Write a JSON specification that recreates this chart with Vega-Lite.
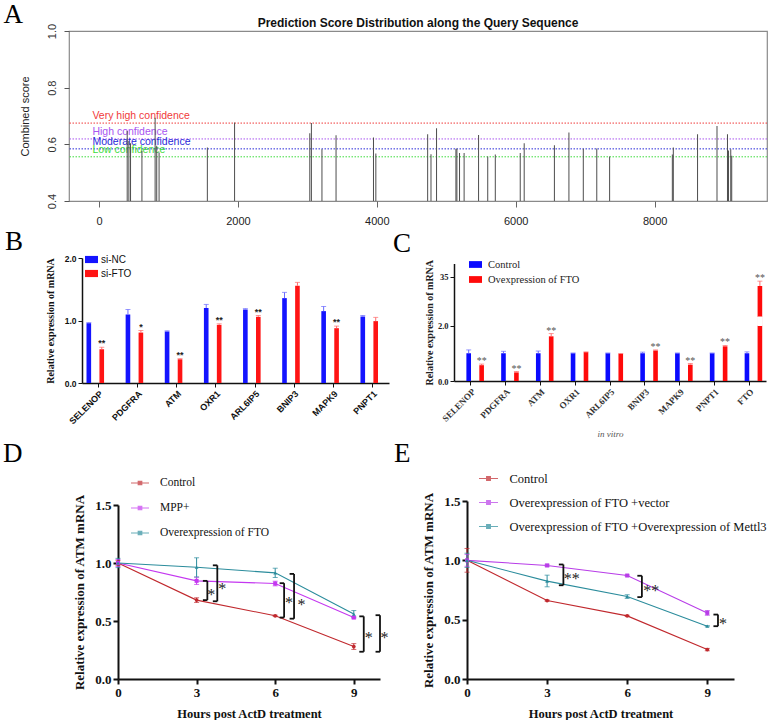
{
"$schema": "https://vega.github.io/schema/vega-lite/v6.json",
"background": "white",
"padding": {"left": 3, "top": 0, "right": 0, "bottom": 0},
"config": {"view": {"stroke": null}, "axis": {"grid": false}},
"datasets": {
"sites": [
{"pos":406,"score":0.647},{"pos":430,"score":0.612},{"pos":454,"score":0.604},{"pos":618,"score":0.577},{"pos":808,"score":0.694},{"pos":831,"score":0.595},{"pos":865,"score":0.571},{"pos":1560,"score":0.589},{"pos":1952,"score":0.677},{"pos":3035,"score":0.639},{"pos":3058,"score":0.675},{"pos":3210,"score":0.583},{"pos":3413,"score":0.632},{"pos":3952,"score":0.624},{"pos":3986,"score":0.568},{"pos":4732,"score":0.636},{"pos":4780,"score":0.565},{"pos":4860,"score":0.657},{"pos":5139,"score":0.584},{"pos":5153,"score":0.584},{"pos":5191,"score":0.569},{"pos":5257,"score":0.569},{"pos":5465,"score":0.633},{"pos":5597,"score":0.557},{"pos":5706,"score":0.564},{"pos":6065,"score":0.569},{"pos":6122,"score":0.604},{"pos":6557,"score":0.597},{"pos":6766,"score":0.642},{"pos":6973,"score":0.584},{"pos":7167,"score":0.585},{"pos":7352,"score":0.557},{"pos":8255,"score":0.564},{"pos":8269,"score":0.589},{"pos":8618,"score":0.636},{"pos":8898,"score":0.665},{"pos":9049,"score":0.636},{"pos":9064,"score":0.578},{"pos":9096,"score":0.583},{"pos":9110,"score":0.56}
],
"thresholds": [
{"level":"Very high confidence","score":0.675},{"level":"High confidence","score":0.619},{"level":"Moderate confidence","score":0.584},{"level":"Low confidence","score":0.556}
],
"geneB": [
{"gene":"SELENOP","group":"si-NC","value":0.957,"hi":0.967,"star":""},
{"gene":"SELENOP","group":"si-FTO","value":0.54,"hi":0.572,"star":"**"},
{"gene":"PDGFRA","group":"si-NC","value":1.096,"hi":1.176,"star":""},
{"gene":"PDGFRA","group":"si-FTO","value":0.807,"hi":0.84,"star":"*"},
{"gene":"ATM","group":"si-NC","value":0.825,"hi":0.835,"star":""},
{"gene":"ATM","group":"si-FTO","value":0.38,"hi":0.39,"star":"**"},
{"gene":"OXR1","group":"si-NC","value":1.2,"hi":1.257,"star":""},
{"gene":"OXR1","group":"si-FTO","value":0.93,"hi":0.947,"star":"**"},
{"gene":"ARL6IP5","group":"si-NC","value":1.176,"hi":1.19,"star":""},
{"gene":"ARL6IP5","group":"si-FTO","value":1.059,"hi":1.08,"star":"**"},
{"gene":"BNIP3","group":"si-NC","value":1.358,"hi":1.45,"star":""},
{"gene":"BNIP3","group":"si-FTO","value":1.556,"hi":1.61,"star":""},
{"gene":"MAPK9","group":"si-NC","value":1.15,"hi":1.225,"star":""},
{"gene":"MAPK9","group":"si-FTO","value":0.877,"hi":0.91,"star":"**"},
{"gene":"PNPT1","group":"si-NC","value":1.064,"hi":1.08,"star":""},
{"gene":"PNPT1","group":"si-FTO","value":0.99,"hi":1.05,"star":""}
],
"geneC": [
{"gene":"SELENOP","group":"Control","value":1.0,"hi":1.12,"star":""},
{"gene":"SELENOP","group":"Ovexpression of FTO","value":0.57,"hi":0.61,"star":"**"},
{"gene":"PDGFRA","group":"Control","value":1.0,"hi":1.07,"star":""},
{"gene":"PDGFRA","group":"Ovexpression of FTO","value":0.31,"hi":0.34,"star":"**"},
{"gene":"ATM","group":"Control","value":1.0,"hi":1.08,"star":""},
{"gene":"ATM","group":"Ovexpression of FTO","value":1.61,"hi":1.71,"star":"**"},
{"gene":"OXR1","group":"Control","value":1.0,"hi":1.01,"star":""},
{"gene":"OXR1","group":"Ovexpression of FTO","value":1.04,"hi":1.05,"star":""},
{"gene":"ARL6IP5","group":"Control","value":1.0,"hi":1.01,"star":""},
{"gene":"ARL6IP5","group":"Ovexpression of FTO","value":0.98,"hi":0.99,"star":""},
{"gene":"BNIP3","group":"Control","value":1.0,"hi":1.04,"star":""},
{"gene":"BNIP3","group":"Ovexpression of FTO","value":1.1,"hi":1.12,"star":"**"},
{"gene":"MAPK9","group":"Control","value":1.0,"hi":1.01,"star":""},
{"gene":"MAPK9","group":"Ovexpression of FTO","value":0.59,"hi":0.63,"star":"**"},
{"gene":"PNPT1","group":"Control","value":1.0,"hi":1.01,"star":""},
{"gene":"PNPT1","group":"Ovexpression of FTO","value":1.25,"hi":1.28,"star":"**"},
{"gene":"FTO","group":"Control","value":1.0,"hi":1.05,"star":""},
{"gene":"FTO","group":"Ovexpression of FTO","value":31.6,"hi":33.4,"star":"**"}
],
"breakC": [
{"gene":"FTO","group":"Ovexpression of FTO","lo":2,"hi":20}
],
"lineD": [
{"series":"Control","hour":0,"mean":1.0,"lo":0.98,"hi":1.02},
{"series":"Control","hour":3,"mean":0.68,"lo":0.66,"hi":0.7},
{"series":"Control","hour":6,"mean":0.545,"lo":0.54,"hi":0.55},
{"series":"Control","hour":9,"mean":0.28,"lo":0.255,"hi":0.305},
{"series":"MPP+","hour":0,"mean":1.0,"lo":0.97,"hi":1.03},
{"series":"MPP+","hour":3,"mean":0.846,"lo":0.815,"hi":0.877},
{"series":"MPP+","hour":6,"mean":0.823,"lo":0.803,"hi":0.843},
{"series":"MPP+","hour":9,"mean":0.53,"lo":0.52,"hi":0.54},
{"series":"Overexpression of FTO","hour":0,"mean":1.0,"lo":0.96,"hi":1.04},
{"series":"Overexpression of FTO","hour":3,"mean":0.964,"lo":0.88,"hi":1.045},
{"series":"Overexpression of FTO","hour":6,"mean":0.915,"lo":0.875,"hi":0.955},
{"series":"Overexpression of FTO","hour":9,"mean":0.56,"lo":0.53,"hi":0.59}
],
"bracketD": [
{"bx":3.41,"bxl":3.24,"lo":0.68,"hi":0.846},
{"bx":3.79,"bxl":3.62,"lo":0.67,"hi":0.98},
{"bx":6.34,"bxl":6.17,"lo":0.53,"hi":0.826},
{"bx":6.72,"bxl":6.55,"lo":0.52,"hi":0.906},
{"bx":9.38,"bxl":9.21,"lo":0.235,"hi":0.54},
{"bx":10.0,"bxl":9.83,"lo":0.235,"hi":0.55}
],
"starD": [
{"sx":3.56,"sy":0.754,"s":"*"},{"sx":3.98,"sy":0.8,"s":"*"},{"sx":6.53,"sy":0.68,"s":"*"},{"sx":7.0,"sy":0.66,"s":"*"},{"sx":9.57,"sy":0.38,"s":"*"},{"sx":10.17,"sy":0.38,"s":"*"}
],
"lineE": [
{"series":"Control","hour":0,"mean":1.0,"lo":0.9,"hi":1.1},
{"series":"Control","hour":3,"mean":0.661,"lo":0.656,"hi":0.666},
{"series":"Control","hour":6,"mean":0.532,"lo":0.527,"hi":0.537},
{"series":"Control","hour":9,"mean":0.248,"lo":0.238,"hi":0.258},
{"series":"Overexpression of FTO +vector","hour":0,"mean":1.0,"lo":0.95,"hi":1.05},
{"series":"Overexpression of FTO +vector","hour":3,"mean":0.957,"lo":0.947,"hi":0.967},
{"series":"Overexpression of FTO +vector","hour":6,"mean":0.872,"lo":0.867,"hi":0.877},
{"series":"Overexpression of FTO +vector","hour":9,"mean":0.557,"lo":0.537,"hi":0.577},
{"series":"Overexpression of FTO +Overexpression of Mettl3","hour":0,"mean":1.0,"lo":0.94,"hi":1.06},
{"series":"Overexpression of FTO +Overexpression of Mettl3","hour":3,"mean":0.825,"lo":0.777,"hi":0.875},
{"series":"Overexpression of FTO +Overexpression of Mettl3","hour":6,"mean":0.695,"lo":0.68,"hi":0.71},
{"series":"Overexpression of FTO +Overexpression of Mettl3","hour":9,"mean":0.445,"lo":0.44,"hi":0.45}
],
"bracketE": [
{"bx":3.61,"bxl":3.44,"lo":0.79,"hi":0.965},
{"bx":6.55,"bxl":6.38,"lo":0.69,"hi":0.87},
{"bx":9.4,"bxl":9.23,"lo":0.445,"hi":0.543}
],
"starE": [
{"sx":3.92,"sy":0.867,"s":"**"},{"sx":6.9,"sy":0.771,"s":"**"},{"sx":9.59,"sy":0.49,"s":"*"}
]
},
"columns": 1,
"align": "none",
"spacing": 1,
"resolve": {"scale": {"color": "independent"}, "legend": {"color": "independent"}},
"concat": [
{"title": {"text": "A", "anchor": "start", "dx": -15, "font": "Liberation Serif", "fontSize": 27, "fontWeight": "normal", "color": "#000", "offset": -12},
 "hconcat": [
{
"width": 698, "height": 170,
"view": {"stroke": "#8a8a8a", "strokeWidth": 1.2},
"title": {"text": "Prediction Score Distribution along the Query Sequence", "anchor": "middle", "font": "Liberation Sans Narrow, Liberation Sans", "fontSize": 12, "fontWeight": "bold", "color": "#111", "offset": -7},
"layer": [
{"data": {"name": "thresholds"}, "mark": {"type": "rule", "strokeDash": [1.5, 1.5], "strokeWidth": 1},
 "encoding": {
  "y": {"field": "score", "type": "quantitative", "scale": {"domain": [0.4, 1.0], "nice": false, "zero": false},
    "axis": {"values": [0.4,0.5,0.6,0.7,0.8,0.9,1.0], "format": ".1f", "domain": false, "tickSize": 5, "tickColor": "#555", "labelAngle": -90, "labelAlign": "center", "labelBaseline": "bottom", "labelFont": "Liberation Sans", "labelFontSize": 11, "labelColor": "#333", "labelPadding": 7, "title": "Combined score", "titleFont": "Liberation Sans", "titleFontSize": 11, "titleFontWeight": "normal", "titleColor": "#222", "titlePadding": 16}},
  "color": {"field": "level", "type": "nominal", "scale": {"domain": ["Very high confidence","High confidence","Moderate confidence","Low confidence"], "range": ["#f03a3a","#a855f0","#2a2ad8","#3cdc3c"]}, "legend": null}}},
{"data": {"name": "thresholds"}, "mark": {"type": "text", "align": "left", "baseline": "middle", "dy": -7, "font": "Liberation Sans Narrow, Liberation Sans", "fontSize": 10.5},
 "encoding": {"x": {"datum": -95, "type": "quantitative"}, "y": {"field": "score", "type": "quantitative"}, "text": {"field": "level", "type": "nominal"},
  "color": {"field": "level", "type": "nominal", "legend": null}}},
{"data": {"name": "sites"}, "mark": {"type": "bar", "size": 1, "color": "#4d4d4d", "clip": true},
 "encoding": {
  "x": {"field": "pos", "type": "quantitative", "scale": {"domain": [-360, 9546], "nice": false, "zero": false},
    "axis": {"values": [0,2000,4000,6000,8000], "format": "d", "domain": false, "tickSize": 6, "tickColor": "#666", "labelFont": "Liberation Sans", "labelFontSize": 11, "labelColor": "#222", "labelPadding": 8, "labelFlush": false, "title": null}},
  "y": {"field": "score", "type": "quantitative"}}}
]
}
]},
{"hconcat": [
{
"width": 320, "height": 125,
"title": {"text": "B", "anchor": "start", "frame": "group", "dx": -64, "offset": -3, "font": "Liberation Serif", "fontSize": 27, "fontWeight": "normal", "color": "#000"},
"data": {"name": "geneB"},
"encoding": {
  "x": {"field": "gene", "type": "nominal", "sort": null, "scale": {"range": [13, 320], "paddingInner": 0.386, "paddingOuter": 0.115},
    "axis": {"title": null, "labelAngle": -45, "labelFont": "Liberation Sans", "labelFontWeight": "bold", "labelFontSize": 9, "labelColor": "#111", "tickSize": 4, "tickColor": "#111", "domainColor": "#111", "domainWidth": 1.5, "labelPadding": 2}},
  "xOffset": {"field": "group", "type": "nominal", "sort": ["si-NC","si-FTO"], "scale": {"paddingInner": 0.286, "paddingOuter": 0}}
},
"layer": [
{"mark": {"type": "bar"},
 "encoding": {
  "y": {"field": "value", "type": "quantitative", "scale": {"domain": [0, 2], "nice": false},
    "axis": {"offset": -13, "values": [0,0.5,1,1.5,2], "format": ".1f", "labelFont": "Liberation Sans", "labelFontWeight": "bold", "labelFontSize": 8.5, "labelColor": "#111", "tickSize": 4, "tickColor": "#111", "domainColor": "#111", "domainWidth": 1.5, "title": "Relative expression of mRNA", "titleFont": "Liberation Serif", "titleFontWeight": "bold", "titleFontSize": 10, "titleColor": "#111", "titlePadding": 9}},
  "color": {"field": "group", "type": "nominal", "scale": {"domain": ["si-NC","si-FTO"], "range": ["#1414ff","#ff1414"]},
    "legend": {"orient": "none", "legendX": 16, "legendY": -5, "title": null, "symbolType": "M-1,-0.55H1V0.55H-1Z", "symbolSize": 169, "symbolStrokeWidth": 0, "labelFont": "Liberation Sans", "labelFontSize": 10, "labelColor": "#111", "labelOffset": 3, "rowPadding": 2}}}},
{"transform": [{"filter": "datum.group == 'si-NC'"}], "mark": {"type": "rule", "strokeWidth": 1, "color": "#6b6bff"},
 "encoding": {"y": {"field": "value", "type": "quantitative"}, "y2": {"field": "hi"}}},
{"transform": [{"filter": "datum.group == 'si-FTO'"}], "mark": {"type": "rule", "strokeWidth": 1, "color": "#ff6b6b"},
 "encoding": {"y": {"field": "value", "type": "quantitative"}, "y2": {"field": "hi"}}},
{"transform": [{"filter": "datum.group == 'si-NC'"}], "mark": {"type": "tick", "orient": "horizontal", "size": 5, "thickness": 1, "color": "#6b6bff"},
 "encoding": {"y": {"field": "hi", "type": "quantitative"}}},
{"transform": [{"filter": "datum.group == 'si-FTO'"}], "mark": {"type": "tick", "orient": "horizontal", "size": 5, "thickness": 1, "color": "#ff6b6b"},
 "encoding": {"y": {"field": "hi", "type": "quantitative"}}},
{"transform": [{"filter": "datum.star != ''"}],
 "mark": {"type": "text", "baseline": "bottom", "dy": 1, "font": "Liberation Sans", "fontSize": 9, "fontWeight": "bold", "color": "#222"},
 "encoding": {"y": {"field": "hi", "type": "quantitative"}, "text": {"field": "star", "type": "nominal"}}}
]
},
{
"width": 312, "height": 123,
"title": {"text": "C", "anchor": "start", "frame": "group", "dx": -61, "offset": 0, "font": "Liberation Serif", "fontSize": 27, "fontWeight": "normal", "color": "#000"},
"encoding": {
  "x": {"field": "gene", "type": "nominal", "sort": null, "scale": {"paddingInner": 0.37, "paddingOuter": 0.17},
    "axis": {"title": "in vitro", "titleFont": "Liberation Serif", "titleFontStyle": "italic", "titleFontWeight": "normal", "titleFontSize": 9, "titleColor": "#555", "titlePadding": 6, "labelAngle": -45, "labelFont": "Liberation Serif", "labelFontWeight": "bold", "labelFontSize": 9, "labelColor": "#333", "tickSize": 4, "tickColor": "#111", "domainColor": "#111", "domainWidth": 1.5, "labelPadding": 2}},
  "xOffset": {"field": "group", "type": "nominal", "sort": ["Control","Ovexpression of FTO"], "scale": {"paddingInner": 0.308, "paddingOuter": 0}}
},
"layer": [
{"data": {"name": "geneC"}, "mark": {"type": "bar"},
 "encoding": {
  "y": {"field": "value", "type": "quantitative", "scale": {"domain": [0, 2, 20, 40], "range": [123, 67.5, 59, 5.5], "nice": false, "zero": false},
    "axis": {"values": [0,0.5,1,1.5,2,20,25,30,35,40], "labelExpr": "datum.value >= 20 ? format(datum.value, 'd') : format(datum.value, '.1f')", "labelFont": "Liberation Serif", "labelFontWeight": "bold", "labelFontSize": 8.5, "labelColor": "#222", "tickSize": 4, "tickColor": "#111", "domainColor": "#111", "domainWidth": 1.5, "title": "Relative expression of mRNA", "titleFont": "Liberation Serif", "titleFontWeight": "bold", "titleFontSize": 10, "titleColor": "#222", "titlePadding": 3}},
  "color": {"field": "group", "type": "nominal", "scale": {"domain": ["Control","Ovexpression of FTO"], "range": ["#0a0aff","#ff0a0a"]},
    "legend": {"orient": "none", "legendX": 15, "legendY": 0, "title": null, "symbolType": "M-1,-0.52H1V0.52H-1Z", "symbolSize": 169, "symbolStrokeWidth": 0, "labelFont": "Liberation Serif", "labelFontSize": 10.5, "labelColor": "#222", "labelOffset": 6, "rowPadding": 3}}}},
{"data": {"name": "breakC"}, "mark": {"type": "bar", "color": "white", "stroke": "white", "strokeWidth": 1},
 "encoding": {"y": {"field": "lo", "type": "quantitative"}, "y2": {"field": "hi"}}},
{"data": {"name": "geneC"}, "transform": [{"filter": "datum.group == 'Control'"}], "mark": {"type": "rule", "strokeWidth": 1, "color": "#6b6bff"},
 "encoding": {"y": {"field": "value", "type": "quantitative"}, "y2": {"field": "hi"}}},
{"data": {"name": "geneC"}, "transform": [{"filter": "datum.group != 'Control'"}], "mark": {"type": "rule", "strokeWidth": 1, "color": "#ff6b6b"},
 "encoding": {"y": {"field": "value", "type": "quantitative"}, "y2": {"field": "hi"}}},
{"data": {"name": "geneC"}, "transform": [{"filter": "datum.group == 'Control'"}], "mark": {"type": "tick", "orient": "horizontal", "size": 5, "thickness": 1, "color": "#6b6bff"},
 "encoding": {"y": {"field": "hi", "type": "quantitative"}}},
{"data": {"name": "geneC"}, "transform": [{"filter": "datum.group != 'Control'"}], "mark": {"type": "tick", "orient": "horizontal", "size": 5, "thickness": 1, "color": "#ff6b6b"},
 "encoding": {"y": {"field": "hi", "type": "quantitative"}}},
{"data": {"name": "geneC"}, "transform": [{"filter": "datum.star != ''"}],
 "mark": {"type": "text", "baseline": "bottom", "dy": 2, "font": "Liberation Serif", "fontSize": 10, "color": "#555"},
 "encoding": {"y": {"field": "hi", "type": "quantitative"}, "text": {"field": "star", "type": "nominal"}}}
]
}
], "spacing": 4, "resolve": {"scale": {"color": "independent"}, "legend": {"color": "independent"}}},
{"hconcat": [
{
"width": 311, "height": 178,
"title": {"text": "D", "anchor": "start", "frame": "group", "dx": -66, "offset": 5, "font": "Liberation Serif", "fontSize": 27, "fontWeight": "normal", "color": "#000"},
"layer": [
{"data": {"name": "lineD"}, "mark": {"type": "line", "strokeWidth": 1.1},
 "encoding": {
  "x": {"field": "hour", "type": "quantitative", "scale": {"domain": [0, 10], "range": [49, 311], "nice": false, "zero": false},
    "axis": {"values": [0,3,6,9], "title": "Hours post ActD treatment", "titleFont": "Liberation Serif", "titleFontSize": 12.5, "titleFontWeight": "bold", "titleColor": "#111", "titlePadding": 8, "labelFont": "Liberation Serif", "labelFontSize": 13, "labelFontWeight": "bold", "labelColor": "#111", "labelFlush": false, "domainColor": "#111", "domainWidth": 2, "tickColor": "#111", "tickWidth": 2, "tickSize": 5, "labelPadding": 2}},
  "y": {"field": "mean", "type": "quantitative", "scale": {"domain": [0, 1.5], "range": [178, 4], "nice": false},
    "axis": {"offset": -49, "values": [0,0.5,1,1.5], "format": ".1f", "title": "Relative expression of ATM mRNA", "titleFont": "Liberation Serif", "titleFontSize": 13, "titleFontWeight": "bold", "titleColor": "#111", "titlePadding": 8, "labelFont": "Liberation Serif", "labelFontSize": 13, "labelFontWeight": "bold", "labelColor": "#111", "domainColor": "#111", "domainWidth": 2, "tickColor": "#111", "tickWidth": 2, "tickSize": 5, "labelPadding": 2}},
  "color": {"field": "series", "type": "nominal", "scale": {"domain": ["Control","MPP+","Overexpression of FTO"], "range": ["#c0282d","#c437f0","#2b8c9c"]},
    "legend": {"orient": "none", "legendX": 61, "legendY": -28, "title": null, "symbolType": "M-1,0H1M-0.2,-0.2H0.2V0.2H-0.2Z", "symbolSize": 324, "symbolStrokeWidth": 1.1, "labelFont": "Liberation Serif", "labelFontSize": 11.5, "labelColor": "#111", "labelOffset": 10, "rowPadding": 9}}}},
{"data": {"name": "lineD"}, "mark": {"type": "rule", "strokeWidth": 1},
 "encoding": {"x": {"field": "hour", "type": "quantitative"}, "y": {"field": "lo", "type": "quantitative"}, "y2": {"field": "hi"}, "color": {"field": "series", "type": "nominal"}}},
{"data": {"name": "lineD"}, "mark": {"type": "tick", "orient": "horizontal", "size": 5, "thickness": 1},
 "encoding": {"x": {"field": "hour", "type": "quantitative"}, "y": {"field": "hi", "type": "quantitative"}, "color": {"field": "series", "type": "nominal"}}},
{"data": {"name": "lineD"}, "mark": {"type": "tick", "orient": "horizontal", "size": 5, "thickness": 1},
 "encoding": {"x": {"field": "hour", "type": "quantitative"}, "y": {"field": "lo", "type": "quantitative"}, "color": {"field": "series", "type": "nominal"}}},
{"data": {"name": "lineD"}, "transform": [{"filter": "datum.series == 'Control'"}], "mark": {"type": "point", "shape": "circle", "filled": true, "size": 14, "opacity": 1},
 "encoding": {"x": {"field": "hour", "type": "quantitative"}, "y": {"field": "mean", "type": "quantitative"}, "color": {"field": "series", "type": "nominal"}}},
{"data": {"name": "lineD"}, "transform": [{"filter": "datum.series == 'MPP+'"}], "mark": {"type": "point", "shape": "square", "filled": true, "size": 16, "opacity": 1},
 "encoding": {"x": {"field": "hour", "type": "quantitative"}, "y": {"field": "mean", "type": "quantitative"}, "color": {"field": "series", "type": "nominal"}}},
{"data": {"name": "lineD"}, "transform": [{"filter": "datum.series == 'Overexpression of FTO'"}], "mark": {"type": "point", "shape": "triangle-up", "filled": true, "size": 14, "opacity": 1},
 "encoding": {"x": {"field": "hour", "type": "quantitative"}, "y": {"field": "mean", "type": "quantitative"}, "color": {"field": "series", "type": "nominal"}}},
{"data": {"name": "bracketD"}, "mark": {"type": "rule", "color": "#111", "strokeWidth": 1.8},
 "encoding": {"x": {"field": "bx", "type": "quantitative"}, "y": {"field": "lo", "type": "quantitative"}, "y2": {"field": "hi"}}},
{"data": {"name": "bracketD"}, "mark": {"type": "rule", "color": "#111", "strokeWidth": 1.8},
 "encoding": {"x": {"field": "bxl", "type": "quantitative"}, "x2": {"field": "bx"}, "y": {"field": "hi", "type": "quantitative"}}},
{"data": {"name": "bracketD"}, "mark": {"type": "rule", "color": "#111", "strokeWidth": 1.8},
 "encoding": {"x": {"field": "bxl", "type": "quantitative"}, "x2": {"field": "bx"}, "y": {"field": "lo", "type": "quantitative"}}},
{"data": {"name": "starD"}, "mark": {"type": "text", "font": "Liberation Serif", "fontSize": 16, "baseline": "middle", "dy": 3, "color": "#222"},
 "encoding": {"x": {"field": "sx", "type": "quantitative"}, "y": {"field": "sy", "type": "quantitative"}, "text": {"field": "s", "type": "nominal"}}}
]
},
{
"width": 267, "height": 178,
"title": {"text": "E", "anchor": "start", "frame": "group", "dx": -73, "offset": 0, "font": "Liberation Serif", "fontSize": 27, "fontWeight": "normal", "color": "#000"},
"layer": [
{"data": {"name": "lineE"}, "mark": {"type": "line", "strokeWidth": 1.1},
 "encoding": {
  "x": {"field": "hour", "type": "quantitative", "scale": {"domain": [0, 10], "nice": false, "zero": false},
    "axis": {"values": [0,3,6,9], "title": "Hours post ActD treatment", "titleFont": "Liberation Serif", "titleFontSize": 12.5, "titleFontWeight": "bold", "titleColor": "#111", "titlePadding": 8, "labelFont": "Liberation Serif", "labelFontSize": 13, "labelFontWeight": "bold", "labelColor": "#111", "labelFlush": false, "domainColor": "#111", "domainWidth": 2, "tickColor": "#111", "tickWidth": 2, "tickSize": 5, "labelPadding": 2}},
  "y": {"field": "mean", "type": "quantitative", "scale": {"domain": [0, 1.5], "range": [178, 0], "nice": false},
    "axis": {"values": [0,0.5,1,1.5], "format": ".1f", "title": "Relative expression of ATM mRNA", "titleFont": "Liberation Serif", "titleFontSize": 13, "titleFontWeight": "bold", "titleColor": "#111", "titlePadding": 8, "labelFont": "Liberation Serif", "labelFontSize": 13, "labelFontWeight": "bold", "labelColor": "#111", "domainColor": "#111", "domainWidth": 2, "tickColor": "#111", "tickWidth": 2, "tickSize": 5, "labelPadding": 2}},
  "color": {"field": "series", "type": "nominal", "scale": {"domain": ["Control","Overexpression of FTO +vector","Overexpression of FTO +Overexpression of Mettl3"], "range": ["#c0282d","#b83de8","#2b8c9c"]},
    "legend": {"orient": "none", "legendX": 11, "legendY": -33, "title": null, "symbolType": "M-1,0H1M-0.2,-0.2H0.2V0.2H-0.2Z", "symbolSize": 361, "symbolStrokeWidth": 1.1, "labelFont": "Liberation Serif", "labelFontSize": 12.5, "labelColor": "#111", "labelOffset": 10.5, "rowPadding": 7, "labelLimit": 400}}}},
{"data": {"name": "lineE"}, "mark": {"type": "rule", "strokeWidth": 1},
 "encoding": {"x": {"field": "hour", "type": "quantitative"}, "y": {"field": "lo", "type": "quantitative"}, "y2": {"field": "hi"}, "color": {"field": "series", "type": "nominal"}}},
{"data": {"name": "lineE"}, "mark": {"type": "tick", "orient": "horizontal", "size": 5, "thickness": 1},
 "encoding": {"x": {"field": "hour", "type": "quantitative"}, "y": {"field": "hi", "type": "quantitative"}, "color": {"field": "series", "type": "nominal"}}},
{"data": {"name": "lineE"}, "mark": {"type": "tick", "orient": "horizontal", "size": 5, "thickness": 1},
 "encoding": {"x": {"field": "hour", "type": "quantitative"}, "y": {"field": "lo", "type": "quantitative"}, "color": {"field": "series", "type": "nominal"}}},
{"data": {"name": "lineE"}, "transform": [{"filter": "datum.series == 'Control'"}], "mark": {"type": "point", "shape": "circle", "filled": true, "size": 14, "opacity": 1},
 "encoding": {"x": {"field": "hour", "type": "quantitative"}, "y": {"field": "mean", "type": "quantitative"}, "color": {"field": "series", "type": "nominal"}}},
{"data": {"name": "lineE"}, "transform": [{"filter": "datum.series == 'Overexpression of FTO +vector'"}], "mark": {"type": "point", "shape": "square", "filled": true, "size": 16, "opacity": 1},
 "encoding": {"x": {"field": "hour", "type": "quantitative"}, "y": {"field": "mean", "type": "quantitative"}, "color": {"field": "series", "type": "nominal"}}},
{"data": {"name": "lineE"}, "transform": [{"filter": "datum.series == 'Overexpression of FTO +Overexpression of Mettl3'"}], "mark": {"type": "point", "shape": "triangle-up", "filled": true, "size": 14, "opacity": 1},
 "encoding": {"x": {"field": "hour", "type": "quantitative"}, "y": {"field": "mean", "type": "quantitative"}, "color": {"field": "series", "type": "nominal"}}},
{"data": {"name": "bracketE"}, "mark": {"type": "rule", "color": "#111", "strokeWidth": 1.8},
 "encoding": {"x": {"field": "bx", "type": "quantitative"}, "y": {"field": "lo", "type": "quantitative"}, "y2": {"field": "hi"}}},
{"data": {"name": "bracketE"}, "mark": {"type": "rule", "color": "#111", "strokeWidth": 1.8},
 "encoding": {"x": {"field": "bxl", "type": "quantitative"}, "x2": {"field": "bx"}, "y": {"field": "hi", "type": "quantitative"}}},
{"data": {"name": "bracketE"}, "mark": {"type": "rule", "color": "#111", "strokeWidth": 1.8},
 "encoding": {"x": {"field": "bxl", "type": "quantitative"}, "x2": {"field": "bx"}, "y": {"field": "lo", "type": "quantitative"}}},
{"data": {"name": "starE"}, "mark": {"type": "text", "font": "Liberation Serif", "fontSize": 16, "baseline": "middle", "dy": 3, "color": "#222"},
 "encoding": {"x": {"field": "sx", "type": "quantitative"}, "y": {"field": "sy", "type": "quantitative"}, "text": {"field": "s", "type": "nominal"}}}
]
}
], "spacing": 5, "resolve": {"scale": {"color": "independent"}, "legend": {"color": "independent"}}}
]
}
